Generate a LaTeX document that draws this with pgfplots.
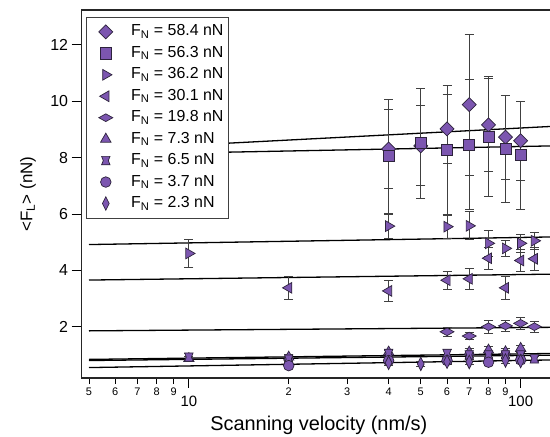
\documentclass[border=0pt]{standalone}
\usepackage{fontspec}
\setmainfont{Liberation Sans}
\usepackage{pgfplots}
\pgfplotsset{compat=1.18}

\definecolor{mk}{RGB}{124,86,176}
\definecolor{edge}{RGB}{45,35,60}

% custom marks
\pgfdeclareplotmark{dia}{%
  \pgfpathmoveto{\pgfqpoint{0pt}{\pgfplotmarksize}}%
  \pgfpathlineto{\pgfqpoint{\pgfplotmarksize}{0pt}}%
  \pgfpathlineto{\pgfqpoint{0pt}{-\pgfplotmarksize}}%
  \pgfpathlineto{\pgfqpoint{-\pgfplotmarksize}{0pt}}%
  \pgfpathclose\pgfusepathqfillstroke}
\pgfdeclareplotmark{flatdia}{%
  \pgfpathmoveto{\pgfqpoint{0pt}{.55\pgfplotmarksize}}%
  \pgfpathlineto{\pgfqpoint{\pgfplotmarksize}{0pt}}%
  \pgfpathlineto{\pgfqpoint{0pt}{-.55\pgfplotmarksize}}%
  \pgfpathlineto{\pgfqpoint{-\pgfplotmarksize}{0pt}}%
  \pgfpathclose\pgfusepathqfillstroke}
\pgfdeclareplotmark{thindia}{%
  \pgfpathmoveto{\pgfqpoint{0pt}{\pgfplotmarksize}}%
  \pgfpathlineto{\pgfqpoint{.5\pgfplotmarksize}{0pt}}%
  \pgfpathlineto{\pgfqpoint{0pt}{-\pgfplotmarksize}}%
  \pgfpathlineto{\pgfqpoint{-.5\pgfplotmarksize}{0pt}}%
  \pgfpathclose\pgfusepathqfillstroke}
\pgfdeclareplotmark{spool}{%
  \pgfpathmoveto{\pgfqpoint{-\pgfplotmarksize}{\pgfplotmarksize}}%
  \pgfpathlineto{\pgfqpoint{\pgfplotmarksize}{\pgfplotmarksize}}%
  \pgfpathlineto{\pgfqpoint{.6\pgfplotmarksize}{0pt}}%
  \pgfpathlineto{\pgfqpoint{\pgfplotmarksize}{-\pgfplotmarksize}}%
  \pgfpathlineto{\pgfqpoint{-\pgfplotmarksize}{-\pgfplotmarksize}}%
  \pgfpathlineto{\pgfqpoint{-.6\pgfplotmarksize}{0pt}}%
  \pgfpathclose\pgfusepathqfillstroke}

\pgfplotsset{
  ser/.style n args={3}{only marks, mark=#1, mark size=#2,
    mark options={fill=mk, draw=edge, line width=0.7bp, solid, rotate=#3},
    error bars/.cd, y dir=both, y explicit,
    error bar style={line width=0.9bp, black!75},
    error mark options={rotate=90, mark size=4.5bp, line width=0.9bp, black!75},
    /pgfplots/.cd},
  fit/.style={forget plot, no marks, black, line width=1.3bp},
}

\begin{document}
\begin{tikzpicture}
\begin{axis}[
  scale only axis,
  width=469bp, height=368bp,
  xmode=log,
  xmin=4.73, xmax=122.6,
  ymin=0.18, ymax=13.24,
  axis line style={draw=none},
  tick align=outside,
  tick style={black, line width=1bp},
  xtick pos=bottom, ytick pos=left,
  major tick length=9.5bp,
  minor tick num=0,
  xtick={10,100},
  xticklabels={10,100},
  xticklabel style={font=\fontsize{15}{15}\selectfont, yshift=-5bp},
  extra x ticks={5,6,7,8,9,20,30,40,50,60,70,80,90},
  extra x tick labels={5,6,7,8,9,2,3,4,5,6,7,8,9},
  extra x tick style={major tick length=6bp,
    xticklabel style={font=\fontsize{11}{11}\selectfont, yshift=5bp}},
  ytick={2,4,6,8,10,12},
  yticklabels={2,4,6,8,10,12},
  yticklabel style={font=\fontsize{16}{16}\selectfont},
  /pgf/number format/assume math mode=true,
  ylabel={<F\textsubscript{L}> (nN)},
  every axis y label/.style={at={(axis description cs:-0.113,0.5)}, rotate=90, anchor=center, font=\fontsize{17}{17}\selectfont},
  xlabel={Scanning velocity (nm/s)},
  every axis x label/.style={at={(axis description cs:0.507,0)}, anchor=center, yshift=-47bp, font=\fontsize{20}{20}\selectfont},
  legend cell align=left,
  legend image code/.code={\path (-6bp,0bp) (17bp,0bp);
    \draw[mark repeat=2,mark phase=2,#1] plot coordinates {(0cm,0cm) (0.3cm,0cm) (0.6cm,0cm)};},
  legend style={at={(axis description cs:0,1)}, anchor=north west,
    xshift=5bp, yshift=-7bp, draw=black!75, line width=0.8bp, fill=white,
    font=\fontsize{16}{16}\selectfont, inner xsep=4.5bp, inner ysep=7bp,
    row sep=6.45bp, column sep=16.5bp,
    nodes={inner sep=0bp, text height=11.5bp, text depth=3.5bp}},
]

% fitted lines (log-linear), endpoints at x=5 and right edge
\addplot[fit] coordinates {(5,8.257) (122.6,9.106)};
\addplot[fit] coordinates {(5,8.099) (122.6,8.416)};
\addplot[fit] coordinates {(5,4.916) (122.6,5.185)};
\addplot[fit] coordinates {(5,3.656) (122.6,3.865)};
\addplot[fit] coordinates {(5,1.853) (122.6,1.978)};
\addplot[fit] coordinates {(5,0.84) (122.6,1.05)};
\addplot[fit] coordinates {(5,0.80) (122.6,0.99)};
\addplot[fit] coordinates {(5,0.55) (122.6,0.82)};

% 58.4 nN
\addplot[ser={dia}{7bp}{0}] table[x=x, y=y, y error=e] {
x y e
40 8.31 1.40
50 8.42 1.42
60 9.02 1.24
70 9.88 2.50
80 9.16 1.66
90 8.73 1.49
100 8.60 1.40
};
% 56.3 nN
\addplot[ser={square*}{5.5bp}{0}] table[x=x, y=y, y error=e] {
x y e
40 8.05 2.02
50 8.51 1.95
60 8.27 2.31
70 8.47 2.30
80 8.74 2.13
90 8.31 1.91
100 8.09 1.92
};
% 36.2 nN
\addplot[ser={triangle*}{6.2bp}{-90}] table[x=x, y=y, y error=e] {
x y e
10 4.60 0.48
40 5.57 0.42
60 5.55 0.42
70 5.58 0.50
80 4.96 0.45
90 4.78 0.27
100 4.96 0.33
110 5.05 0.30
};
% 30.1 nN
\addplot[ser={triangle*}{6.2bp}{90}] table[x=x, y=y, y error=e] {
x y e
20 3.38 0.40
40 3.27 0.36
60 3.65 0.31
70 3.70 0.36
80 4.43 0.38
90 3.38 0.42
100 4.35 0.40
110 4.41 0.42
};
% 19.8 nN
\addplot[ser={flatdia}{7bp}{0}] table[x=x, y=y, y error=e] {
x y e
60 1.82 0.17
70 1.67 0.13
80 2.00 0.24
90 2.03 0.20
100 2.12 0.21
110 2.00 0.20
};
% 7.3 nN
\addplot[ser={triangle*}{6bp}{0}] table[x=x, y=y, y error=e] {
x y e
10 0.87 0.08
20 0.92 0.10
40 1.10 0.10
70 1.10 0.12
80 1.17 0.12
90 1.11 0.12
100 1.23 0.12
};
% 6.5 nN
\addplot[ser={spool}{4.2bp}{0}] table[x=x, y=y, y error=e] {
x y e
10 0.92 0.14
20 0.85 0.08
40 1.05 0.10
60 1.05 0.14
70 1.00 0.10
80 1.00 0.10
90 1.00 0.10
100 1.00 0.10
110 0.86 0.08
};
% 3.7 nN
\addplot[ser={*}{5.3bp}{0}] table[x=x, y=y, y error=e] {
x y e
20 0.62 0.10
40 0.80 0.12
60 0.80 0.12
80 0.74 0.10
100 0.82 0.12
};
% 2.3 nN
\addplot[ser={thindia}{6.8bp}{0}] table[x=x, y=y, y error=e] {
x y e
40 0.72 0.10
50 0.68 0.10
60 0.76 0.10
70 0.75 0.10
90 0.80 0.10
100 0.78 0.10
};

\legend{F\textsubscript{N} = 58.4 nN, F\textsubscript{N} = 56.3 nN, F\textsubscript{N} = 36.2 nN,
  F\textsubscript{N} = 30.1 nN, F\textsubscript{N} = 19.8 nN, F\textsubscript{N} = 7.3 nN,
  F\textsubscript{N} = 6.5 nN, F\textsubscript{N} = 3.7 nN, F\textsubscript{N} = 2.3 nN}

\draw[line width=1.3bp, black!85] (rel axis cs:1,1) -- (rel axis cs:0,1) -- (rel axis cs:0,0) -- (rel axis cs:1,0);
\end{axis}
\pgfresetboundingbox
\path ([xshift=-81bp,yshift=-59bp]current axis.south west) rectangle ([yshift=10bp]current axis.north east);
\end{tikzpicture}
\end{document}
